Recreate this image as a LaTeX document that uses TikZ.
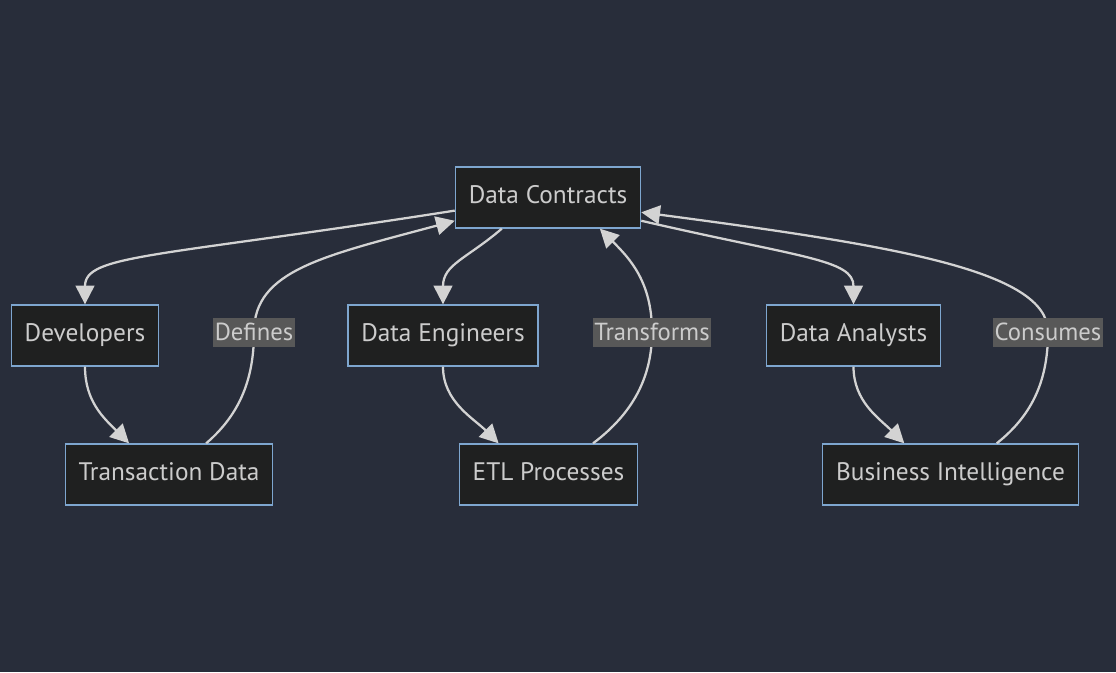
\documentclass[tikz,border=0pt]{standalone}
\usepackage{xcolor}
\usepackage{fontspec}
\setmainfont{PT Sans}
\usepackage{tikz}
\usetikzlibrary{shapes,arrows,arrows.meta}
\definecolor{canvas}{HTML}{282D3A}
\definecolor{boxfill}{HTML}{1F2020}
\definecolor{boxline}{HTML}{7EA6CF}
\definecolor{ink}{HTML}{CCCCCC}
\definecolor{wire}{HTML}{D3D3D3}
\definecolor{tagfill}{HTML}{585858}
\tikzstyle{entity} = [rectangle, draw=boxline, line width=1pt, fill=boxfill, text=ink,
    font=\fontsize{19pt}{22pt}\selectfont, text height=13.5pt, text depth=4pt,
    minimum height=45.75pt, inner xsep=10pt]
\tikzstyle{flow} = [draw=wire, line width=1.7pt, -{Triangle[length=14pt,width=14pt]}]
\tikzstyle{tag} = [rectangle, fill=tagfill, text=ink,
    font=\fontsize{18.5pt}{22pt}\selectfont, inner xsep=1pt, inner ysep=0pt, minimum height=21.75pt]

\begin{document}
\begin{tikzpicture}[x=0.75pt,y=-0.75pt]
    \path[use as bounding box, fill=canvas] (0,0) rectangle (1116,672);
    % Place nodes
    \node [entity] (contracts) at (548,197.5) {Data Contracts};
    \node [entity] (dev) at (85,335.5) {Developers};
    \node [entity] (eng) at (443,335.5) {Data Engineers};
    \node [entity] (analysts) at (853.5,335.5) {Data Analysts};
    \node [entity] (trans) at (169,474.5) {Transaction Data};
    \node [entity] (etl) at (548.5,474.5) {ETL Processes};
    \node [entity] (bi) at (950.5,474.5) {Business Intelligence};
    \coordinate (defines) at (254,332);
    \coordinate (transforms) at (652,332);
    \coordinate (consumes) at (1048,332);
    % Draw edges
    \path [flow] (contracts.188) .. controls +(-300,47) and +(0,-50) .. (dev.north);
    \path [flow] (dev.south) .. controls +(0,35) and +(-25,-25) .. (trans.142);
    \path [flow] (trans.40) .. controls +(35,-30) and +(0,45) .. (defines)
        .. controls +(0,-62) and +(-130,35) .. (contracts.194);
    \path [flow] (contracts.214) .. controls +(-35,30) and +(0,-40) .. (eng.north);
    \path [flow] (eng.south) .. controls +(0,35) and +(-25,-25) .. (etl.148);
    \path [flow] (etl.35) .. controls +(40,-30) and +(0,45) .. (transforms)
        .. controls +(0,-50) and +(30,30) .. (contracts.329);
    \path [flow] (contracts.346) .. controls +(160,37) and +(0,-45) .. (analysts.north);
    \path [flow] (analysts.south) .. controls +(0,35) and +(-25,-25) .. (bi.146);
    \path [flow] (bi.34) .. controls +(38,-30) and +(0,45) .. (consumes)
        .. controls +(0,-62) and +(250,33) .. (contracts.351);
    % Edge labels
    \node [tag] at (defines) {Defines};
    \node [tag] at (transforms) {Transforms};
    \node [tag] at (consumes) {Consumes};
\end{tikzpicture}
\end{document}
